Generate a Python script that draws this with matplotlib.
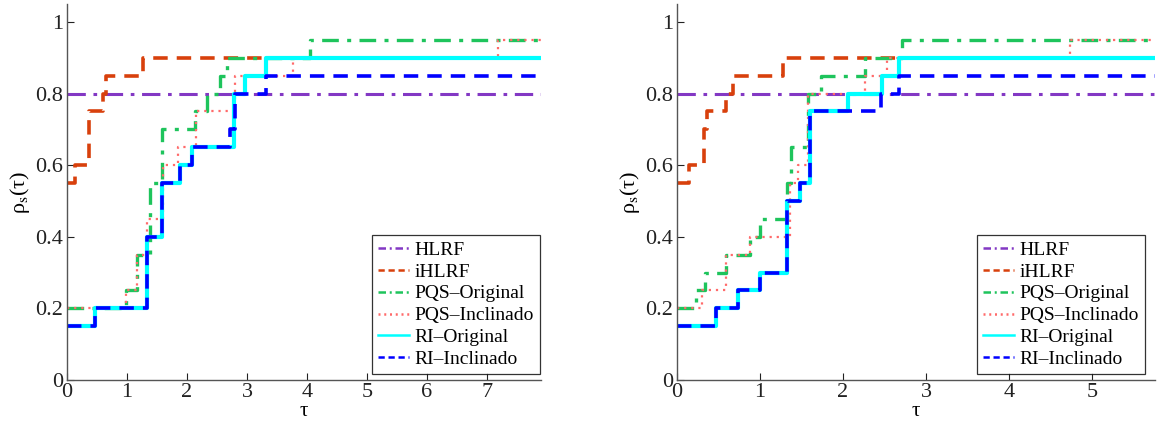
import matplotlib
matplotlib.use("Agg")
import matplotlib.pyplot as plt
import numpy as np

plt.rcParams['font.family'] = ['Liberation Serif', 'DejaVu Serif']
plt.rcParams['mathtext.fontset'] = 'stix'

labels = ["HLRF", "iHLRF", "PQS–Original", "PQS–Inclinado", "RI–Original", "RI–Inclinado"]
colors = ["#8338c4", "#d8400c", "#1ec45c", "#ff6a6a", "#00ffff", "#0000ff"]

# ---- Left panel (tau, rho) step data ----
L_tau_max = 7.9
L_hlrf_t = [0.0]
L_hlrf_r = [0.80]
L_ihlrf_t = [0.0, 0.13, 0.36, 0.60, 0.65, 1.27]
L_ihlrf_r = [0.55, 0.60, 0.75, 0.80, 0.85, 0.90]
L_pqso_t = [0.0, 0.99, 1.16, 1.38, 1.58, 2.13, 2.33, 2.55, 2.66, 4.05]
L_pqso_r = [0.20, 0.25, 0.35, 0.55, 0.70, 0.75, 0.80, 0.85, 0.90, 0.95]
L_pqsi_t = [0.0, 0.99, 1.16, 1.33, 1.60, 1.85, 2.15, 2.80, 3.77, 7.18]
L_pqsi_r = [0.20, 0.25, 0.35, 0.45, 0.60, 0.65, 0.75, 0.85, 0.90, 0.95]
L_rio_t = [0.0, 0.47, 1.34, 1.59, 1.88, 2.09, 2.78, 2.97, 3.32]
L_rio_r = [0.15, 0.20, 0.40, 0.55, 0.60, 0.65, 0.80, 0.85, 0.90]
L_rii_t = [0.0, 0.47, 1.34, 1.59, 1.88, 2.09, 2.72, 2.80, 3.32]
L_rii_r = [0.15, 0.20, 0.40, 0.55, 0.60, 0.65, 0.70, 0.80, 0.85]

# ---- Right panel ----
R_tau_max = 5.76
R_hlrf_t = [0.0]
R_hlrf_r = [0.80]
R_ihlrf_t = [0.0, 0.14, 0.32, 0.36, 0.59, 0.68, 1.28]
R_ihlrf_r = [0.55, 0.60, 0.70, 0.75, 0.80, 0.85, 0.90]
R_pqso_t = [0.0, 0.23, 0.34, 0.59, 0.88, 1.00, 1.32, 1.37, 1.58, 1.74, 2.27, 2.71]
R_pqso_r = [0.20, 0.25, 0.30, 0.35, 0.40, 0.45, 0.55, 0.65, 0.80, 0.85, 0.90, 0.95]
R_pqsi_t = [0.0, 0.30, 0.59, 0.88, 1.36, 1.46, 1.58, 2.27, 2.53, 4.73]
R_pqsi_r = [0.20, 0.25, 0.35, 0.40, 0.55, 0.60, 0.80, 0.85, 0.90, 0.95]
R_rio_t = [0.0, 0.47, 0.74, 1.00, 1.33, 1.48, 1.60, 2.06, 2.47, 2.67]
R_rio_r = [0.15, 0.20, 0.25, 0.30, 0.50, 0.55, 0.75, 0.80, 0.85, 0.90]
R_rii_t = [0.0, 0.47, 0.74, 1.00, 1.33, 1.48, 1.60, 2.46, 2.67]
R_rii_r = [0.15, 0.20, 0.25, 0.30, 0.50, 0.55, 0.75, 0.80, 0.85]

x_ticks_L = [0, 1, 2, 3, 4, 5, 6, 7]
x_ticks_R = [0, 1, 2, 3, 4, 5]
y_ticks = [0, 0.2, 0.4, 0.6, 0.8, 1.0]
y_ticklabels = ["0", "0.2", "0.4", "0.6", "0.8", "1"]

styles = [
    dict(dashes=(6, 2.5, 1.2, 2.5), lw=2.2),
    dict(dashes=(4, 2.5), lw=2.6),
    dict(dashes=(5, 2.5, 1.2, 2.5), lw=2.4),
    dict(dashes=(1, 2.2), lw=1.6),
    dict(dashes=None, lw=3.0),
    dict(dashes=(4, 2.5), lw=2.6),
]

fig = plt.figure(figsize=(11.57, 4.21), dpi=100)
axL = fig.add_axes([67/1157, 1-380/421, (541-67)/1157, (380-4)/421])
axR = fig.add_axes([677/1157, 1-380/421, (1155-677)/1157, (380-4)/421])

panels = [
    (axL, L_tau_max, x_ticks_L, 1/474, [(L_hlrf_t, L_hlrf_r), (L_ihlrf_t, L_ihlrf_r), (L_pqso_t, L_pqso_r),
                                 (L_pqsi_t, L_pqsi_r), (L_rio_t, L_rio_r), (L_rii_t, L_rii_r)]),
    (axR, R_tau_max, x_ticks_R, 10/478, [(R_hlrf_t, R_hlrf_r), (R_ihlrf_t, R_ihlrf_r), (R_pqso_t, R_pqso_r),
                                 (R_pqsi_t, R_pqsi_r), (R_rio_t, R_rio_r), (R_rii_t, R_rii_r)]),
]

leg_dashes = [(3, 1.5, 0.8, 1.5), (2.5, 1.5), (3, 1.5, 0.8, 1.5), (0.8, 1.5), None, (2.5, 1.5)]

for ax, tmax, xt, rgap, series in panels:
    for (t, r), lab, c, st in zip(series, labels, colors, styles):
        tt = list(t) + [tmax]
        rr = list(r) + [r[-1]]
        ln, = ax.step(tt, rr, where='post', color=c, lw=st['lw'], label=lab)
        if st['dashes'] is not None:
            ln.set_dashes(st['dashes'])
    ax.set_xlim(0, tmax)
    ax.set_ylim(0, 1.05)
    ax.set_xticks(xt)
    ax.set_yticks(y_ticks)
    ax.set_yticklabels(y_ticklabels)
    ax.tick_params(direction='in', labelsize=16, length=5, width=0.8, pad=3, colors='#222222')
    ax.tick_params(axis='x', pad=2)
    for s in ['top', 'right']:
        ax.spines[s].set_visible(False)
    for s in ['left', 'bottom']:
        ax.spines[s].set_color('#555555')
        ax.spines[s].set_linewidth(1.0)
    ax.set_xlabel('τ', fontsize=15, labelpad=0)
    ax.set_ylabel(r'ρ$_\mathrm{s}$(τ)', fontsize=16, labelpad=2)
    leg = ax.legend(loc='lower right', fontsize=14, frameon=True, fancybox=False,
                    edgecolor='black', borderpad=0.3, labelspacing=0.22,
                    handlelength=1.6, handletextpad=0.3, borderaxespad=0.0,
                    bbox_to_anchor=(1 - rgap, 6/376))
    leg.get_frame().set_linewidth(0.9)
    for h, d in zip(leg.get_lines(), leg_dashes):
        h.set_linewidth(1.8)
        if d is not None:
            h.set_dashes(d)

fig.savefig("out.png", dpi=100)
